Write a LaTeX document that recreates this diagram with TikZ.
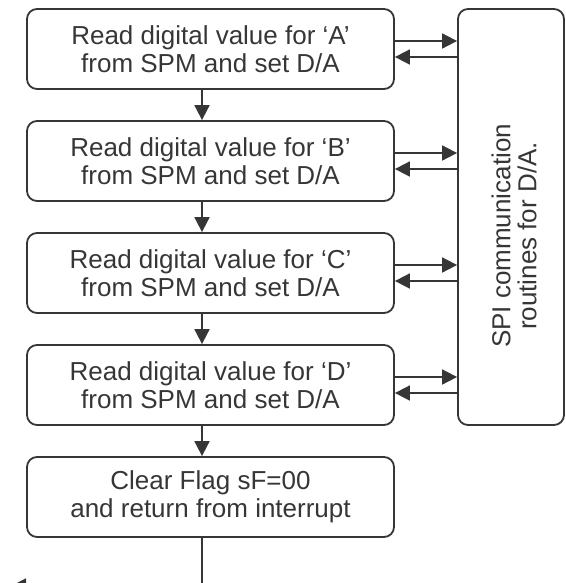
\documentclass[tikz,border=0pt]{standalone}
\usepackage{fontspec}
\setmainfont{Liberation Sans}
\usetikzlibrary{arrows.meta,calc}
\definecolor{ink}{HTML}{363636}
\begin{document}
\begin{tikzpicture}[x=1pt,y=-1pt,
  txt/.style={text=ink,font=\fontsize{26}{28}\selectfont,align=center,inner sep=0pt},
  stepbox/.style={txt,draw=ink,line width=1.8pt,rounded corners=10pt,minimum width=367pt,minimum height=80pt},
  spibox/.style={draw=ink,line width=1.8pt,rounded corners=10pt,minimum width=106pt,minimum height=416pt,inner sep=0pt},
  conn/.style={draw=ink,line width=1.8pt,-{Triangle[length=15pt,width=15pt]}}]
\useasboundingbox (0,0) rectangle (565,583);
\clip (0,0) rectangle (565,583);
\node[stepbox] (a) at (210.5,49) {Read digital value for ‘A’\\from SPM and set D/A};
\node[stepbox] (b) at (210.5,161) {Read digital value for ‘B’\\from SPM and set D/A};
\node[stepbox] (c) at (210.5,273) {Read digital value for ‘C’\\from SPM and set D/A};
\node[stepbox] (d) at (210.5,385) {Read digital value for ‘D’\\from SPM and set D/A};
\node[stepbox] (e) at (210.5,497) {Clear Flag sF=00\\and return from interrupt};
\node[spibox] (spi) at (511,217) {};
\node[txt,rotate=90,font=\fontsize{26}{26}\selectfont] (spitext) at (514,236) {SPI communication\\routines for D/A.};
\coordinate (vx) at (202,0);
\coordinate (endpt) at (11,586);
\path[conn] (a.south -| vx) -- (b.north -| vx);
\path[conn] (b.south -| vx) -- (c.north -| vx);
\path[conn] (c.south -| vx) -- (d.north -| vx);
\path[conn] (d.south -| vx) -- (e.north -| vx);
\path[conn] (e.south -| vx) |- (endpt);
\foreach \n in {a,b,c,d}{
  \path[conn] ([yshift=8pt]\n.east) -- ([yshift=8pt]\n.east -| spi.west);
  \path[conn] ([yshift=-8pt]\n.east -| spi.west) -- ([yshift=-8pt]\n.east);
}
\end{tikzpicture}
\end{document}
